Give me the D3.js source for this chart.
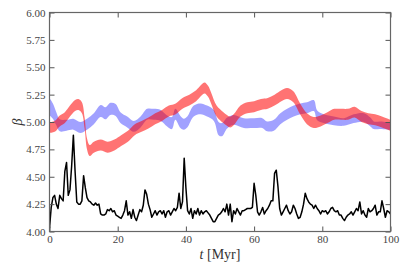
<!DOCTYPE html>
<html>
<head>
<meta charset="utf-8">
<script src="https://cdn.jsdelivr.net/npm/d3@7"></script>
<style>
  body { margin: 0; background: #fff; }
  svg text { font-family: "Liberation Serif", "DejaVu Serif", serif; }
</style>
</head>
<body>
<script>
// black line, sampled every 0.5 Myr from 0 to 100
var blackStep = 0.5;
var blackBeta = [
    4.03, 4.22, 4.31, 4.33, 4.25, 4.21, 4.33, 4.30, 4.28, 4.55,
    4.63, 4.33, 4.38, 4.60, 4.88, 4.55, 4.27, 4.25, 4.25, 4.28,
    4.51, 4.40, 4.31, 4.28, 4.27, 4.25, 4.24, 4.26, 4.24, 4.25,
    4.16, 4.15, 4.15, 4.16, 4.20, 4.19, 4.21, 4.18, 4.19, 4.15,
    4.14, 4.13, 4.12, 4.15, 4.19, 4.28, 4.15, 4.18, 4.12, 4.20,
    4.13, 4.10, 4.15, 4.20, 4.18, 4.24, 4.38, 4.34, 4.25, 4.20,
    4.13, 4.16, 4.19, 4.15, 4.18, 4.19, 4.16, 4.19, 4.13, 4.18,
    4.19, 4.15, 4.18, 4.21, 4.19, 4.22, 4.35, 4.21, 4.27, 4.67,
    4.40, 4.19, 4.16, 4.21, 4.12, 4.19, 4.16, 4.21, 4.15, 4.19,
    4.16, 4.18, 4.19, 4.17, 4.15, 4.12, 4.09, 4.09, 4.12, 4.15,
    4.16, 4.18, 4.21, 4.18, 4.25, 4.15, 4.25, 4.09, 4.19, 4.16,
    4.21, 4.18, 4.15, 4.19, 4.19, 4.20, 4.21, 4.21, 4.21, 4.22,
    4.44, 4.33, 4.18, 4.15, 4.18, 4.22, 4.16, 4.19, 4.21, 4.24,
    4.28, 4.28, 4.53, 4.56, 4.41, 4.21, 4.15, 4.18, 4.21, 4.24,
    4.19, 4.16, 4.18, 4.24, 4.21, 4.16, 4.12, 4.13, 4.18, 4.25,
    4.35, 4.30, 4.27, 4.25, 4.24, 4.21, 4.24, 4.21, 4.19, 4.16,
    4.19, 4.18, 4.19, 4.16, 4.18, 4.21, 4.22, 4.19, 4.18, 4.19,
    4.15, 4.15, 4.12, 4.10, 4.13, 4.15, 4.16, 4.18, 4.15, 4.18,
    4.21, 4.19, 4.27, 4.16, 4.19, 4.15, 4.13, 4.21, 4.18, 4.19,
    4.21, 4.24, 4.15, 4.18, 4.18, 4.28, 4.21, 4.13, 4.19, 4.18,
    4.16
];

// red band: centre and half width
var redT = [0, 1.5, 3, 4.5, 6, 7.5, 8.5, 9.5, 10.3, 11,
    11.8, 13, 15, 17, 19, 21, 23, 25, 27, 29,
    31, 33, 35, 37, 39, 41, 43, 44.5, 45.5, 46.5,
    47.5, 49, 51, 53, 54, 56, 58, 60, 62, 64,
    66, 68, 69.7, 71.5, 73.5, 75.5, 77.5, 79.5, 81.5, 83.5,
    85.5, 87.5, 89.5, 91.5, 93.5, 95.5, 97.5, 100];
var redMid = [4.95, 4.96, 5.01, 5.04, 5.10, 5.15, 5.16, 5.13, 4.99, 4.80,
    4.74, 4.77, 4.79, 4.77, 4.79, 4.83, 4.87, 4.93, 4.96, 4.99,
    5.03, 5.06, 5.10, 5.12, 5.17, 5.20, 5.24, 5.29, 5.31, 5.28,
    5.21, 5.10, 5.04, 5.00, 5.02, 5.10, 5.13, 5.14, 5.16, 5.17,
    5.20, 5.24, 5.26, 5.23, 5.12, 5.03, 4.995, 5.01, 5.04, 5.07,
    5.07, 5.07, 5.09, 5.05, 5.03, 5.02, 5.00, 4.97];
var redHalf = 0.05;

// blue band
var blueT = [0, 1, 2, 3, 5, 7, 9, 11, 13, 15,
    16.4, 17.9, 19.4, 20.8, 22.8, 24.7, 26.7, 28.6, 30.6, 32.6,
    34.5, 35.9, 36.9, 38.4, 39.4, 40.4, 42.3, 44.3, 46.2, 48.2,
    49.6, 50.6, 52.1, 54, 57, 60, 62.4, 63.8, 65.8, 67.7,
    69.7, 71.6, 73.6, 75.5, 77.5, 78.5, 80.4, 83.4, 86.3, 89.2,
    92.2, 94.1, 95.1, 97.1, 100];
var blueMid = [5.14, 5.10, 5.03, 4.97, 4.97, 4.98, 4.95, 4.98, 5.03, 5.10,
    5.08, 5.12, 5.11, 5.04, 5.00, 4.96, 5.00, 5.07, 5.07, 5.06,
    5.01, 4.99, 5.07, 5.00, 4.98, 5.00, 5.10, 5.12, 5.10, 5.06,
    4.94, 4.93, 4.99, 5.02, 4.99, 4.99, 4.99, 4.96, 4.97, 5.03,
    5.07, 5.10, 5.12, 5.13, 5.15, 5.06, 5.03, 5.01, 5.00, 5.03,
    5.04, 5.00, 4.97, 4.97, 4.96];
var blueHalf = [0.08, 0.07, 0.06, 0.055, 0.05, 0.05, 0.05, 0.05, 0.05, 0.055,
    0.055, 0.055, 0.055, 0.05, 0.05, 0.05, 0.05, 0.05, 0.05, 0.05,
    0.05, 0.055, 0.05, 0.055, 0.05, 0.05, 0.05, 0.05, 0.05, 0.05,
    0.06, 0.06, 0.05, 0.045, 0.045, 0.045, 0.045, 0.045, 0.05, 0.05,
    0.05, 0.05, 0.05, 0.05, 0.05, 0.045, 0.04, 0.04, 0.035, 0.04,
    0.04, 0.04, 0.035, 0.035, 0.035];

var xTicks = [0, 20, 40, 60, 80, 100];
var yTicks = [4.00, 4.25, 4.50, 4.75, 5.00, 5.25, 5.50, 5.75, 6.00];

var svg = d3.select('body').append('svg')
    .attr('width', 407)
    .attr('height', 270);

var margin = { top: 12.5, right: 16.5, bottom: 38.5, left: 49.5 },
    width = 407 - margin.left - margin.right,
    height = 270 - margin.top - margin.bottom,
    g = svg.append('g').attr('transform', 'translate(' + margin.left + ',' + margin.top + ')');

var x = d3.scaleLinear().domain([0, 100]).range([0, width]);
var y = d3.scaleLinear().domain([4, 6]).range([height, 0]);

var clip = svg.append('defs').append('clipPath').attr('id', 'plot')
    .append('rect').attr('width', width).attr('height', height);

var plot = g.append('g').attr('clip-path', 'url(#plot)');

var band = d3.area()
    .curve(d3.curveCatmullRom)
    .x(function (d) { return x(d.t); })
    .y0(function (d) { return y(d.lo); })
    .y1(function (d) { return y(d.hi); });

var blue = blueT.map(function (t, i) {
    return { t: t, lo: blueMid[i] - blueHalf[i], hi: blueMid[i] + blueHalf[i] };
});
var red = redT.map(function (t, i) {
    return { t: t, lo: redMid[i] - redHalf, hi: redMid[i] + redHalf };
});

plot.append('path')
    .attr('d', band(blue))
    .attr('fill', 'rgb(0,0,255)')
    .attr('fill-opacity', 0.37);

plot.append('path')
    .attr('d', band(red))
    .attr('fill', 'rgb(255,0,0)')
    .attr('fill-opacity', 0.55);

var line = d3.line()
    .x(function (d, i) { return x(i * blackStep); })
    .y(function (d) { return y(d); });

plot.append('path')
    .attr('d', line(blackBeta))
    .attr('fill', 'none')
    .attr('stroke', '#000')
    .attr('stroke-width', 1.5)
    .attr('stroke-linejoin', 'round');

// axes, ticks pointing inward
function styleAxis(sel) {
    sel.select('.domain').remove();
    sel.selectAll('.tick line').attr('stroke', '#555').attr('stroke-width', 1);
    sel.selectAll('.tick text')
        .attr('fill', '#444')
        .style('font-size', '11px');
}

g.append('g')
    .attr('transform', 'translate(0,' + height + ')')
    .call(d3.axisBottom(x).tickValues(xTicks).tickSize(-5).tickPadding(4).tickFormat(d3.format('d')))
    .call(styleAxis);

g.append('g')
    .call(d3.axisTop(x).tickValues(xTicks).tickSize(-5).tickFormat(''))
    .call(styleAxis);

g.append('g')
    .call(d3.axisLeft(y).tickValues(yTicks).tickSize(-5).tickPadding(4).tickFormat(d3.format('.2f')))
    .call(styleAxis);

g.append('g')
    .attr('transform', 'translate(' + width + ',0)')
    .call(d3.axisRight(y).tickValues(yTicks).tickSize(-5).tickFormat(''))
    .call(styleAxis);

g.append('rect')
    .attr('width', width)
    .attr('height', height)
    .attr('fill', 'none')
    .attr('stroke', '#666')
    .attr('stroke-width', 1.2);

// axis titles
var xlab = g.append('text')
    .attr('x', width / 2)
    .attr('y', height + 27)
    .attr('text-anchor', 'middle')
    .attr('fill', '#333')
    .style('font-size', '14px');
xlab.append('tspan').style('font-style', 'italic').text('t');
xlab.append('tspan').text(' [Myr]');

g.append('text')
    .attr('transform', 'translate(' + (-28) + ',' + (height / 2) + ') rotate(-90)')
    .attr('text-anchor', 'middle')
    .attr('fill', '#333')
    .style('font-size', '14px')
    .style('font-style', 'italic')
    .text('β');
</script>
</body>
</html>
